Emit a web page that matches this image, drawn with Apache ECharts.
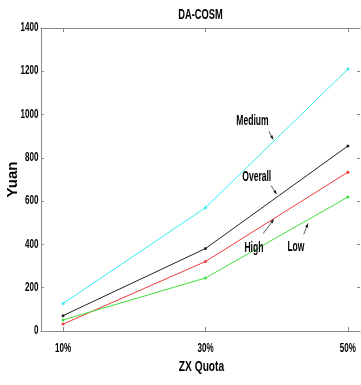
<!DOCTYPE html>
<html>
<head>
<meta charset="utf-8">
<script src="https://cdn.jsdelivr.net/npm/echarts@6/dist/echarts.min.js"></script>
<style>
html,body{margin:0;padding:0;background:#fff;}
#chart{width:361px;height:385px;}
</style>
</head>
<body>
<div id="chart"></div>
<script>
// ZX quota levels (percent) and cost per group (yuan)
const quotas = [10, 30, 50];
const quotaTicks = ['10%', '30%', '50%'];
const medium = [127, 570, 1210];
const overall = [71, 381, 855];
const high = [32, 321, 734];
const low = [51, 245, 619];
const yTicks = [0, 200, 400, 600, 800, 1000, 1200, 1400];

// Callout labels: text position and arrow [from, to], in data units (quota %, yuan)
const callouts = [
  { text: 'Medium',  at: [36.6, 968], from: [38.9, 923], to: [39.5, 885] },
  { text: 'Overall', at: [37.2, 710], from: [39.2, 672], to: [40.0, 632] },
  { text: 'High',    at: [36.8, 382], from: [38.1, 450], to: [39.6, 516] },
  { text: 'Low',     at: [42.7, 389], from: [43.8, 447], to: [44.4, 497] }
];

const SANS = '"Liberation Sans", Arial, Helvetica, sans-serif';
const axisGray = '#8a8a8a';
const X_MIN = 6.9, X_MAX = 51.7;

const chart = echarts.init(document.getElementById('chart'));

function line(name, values, color) {
  return {
    name, type: 'line',
    data: quotas.map((q, i) => [q, values[i]]),
    symbol: 'circle', symbolSize: 3,
    lineStyle: { color, width: 1 },
    itemStyle: { color },
    animation: false, z: 3
  };
}

chart.setOption({
  animation: false,
  grid: { left: 41, right: 1, top: 28, bottom: 54, containLabel: false, outerBoundsMode: 'none' },
  xAxis: [{
    type: 'value', min: X_MIN, max: X_MAX,
    axisLine: { show: true, lineStyle: { color: axisGray, width: 1 } },
    axisTick: { show: true, inside: true, length: 4, customValues: quotas, lineStyle: { color: axisGray } },
    axisLabel: { show: false },
    splitLine: { show: false }
  }, {
    type: 'value', position: 'top', min: X_MIN, max: X_MAX,
    axisLine: { show: true, onZero: false, lineStyle: { color: axisGray, width: 1 } },
    axisTick: { show: true, inside: true, length: 4, customValues: quotas, lineStyle: { color: axisGray } },
    axisLabel: { show: false },
    splitLine: { show: false }
  }],
  yAxis: [{
    type: 'value', min: 0, max: 1400, interval: 200,
    name: 'Yuan', nameLocation: 'middle', nameGap: 21, nameRotate: 90,
    nameTextStyle: { fontFamily: SANS, fontSize: 15, fontWeight: 'bold', color: '#000' },
    axisLine: { show: true, lineStyle: { color: axisGray, width: 1 } },
    axisTick: { show: true, inside: true, length: 3, lineStyle: { color: axisGray } },
    axisLabel: { show: false },
    splitLine: { show: false }
  }, {
    type: 'value', position: 'right', min: 0, max: 1400, interval: 200,
    axisLine: { show: false },
    axisTick: { show: true, inside: true, length: 3, lineStyle: { color: axisGray } },
    axisLabel: { show: false },
    splitLine: { show: false }
  }],
  series: [
    line('Medium', medium, '#33eaf0'),
    line('Overall', overall, '#222222'),
    line('High', high, '#f03a3a'),
    line('Low', low, '#3ee03e')
  ]
});

// Condensed bold text, squeezed horizontally around its anchor
function narrowText(text, x, y, size, squeeze, align) {
  return {
    type: 'text', x, y, z: 10, scaleX: squeeze,
    style: { text, fontFamily: SANS, fontSize: size, fontWeight: 'bold', fill: '#000', align: align || 'center', verticalAlign: 'middle' }
  };
}

// Texts and arrows placed through the chart's own coordinate conversion
const toPx = p => chart.convertToPixel({ xAxisIndex: 0, yAxisIndex: 0 }, p);
const graphics = [];
const origin = toPx([X_MIN, 0]), far = toPx([X_MAX, 1400]);
const midX = (origin[0] + far[0]) / 2;

graphics.push(narrowText('DA-COSM', midX, 15, 15, 0.62));
graphics.push(narrowText('ZX Quota', midX + 1, origin[1] + 36, 15, 0.68));

// tick labels
yTicks.forEach(v => {
  const p = toPx([X_MIN, v]);
  graphics.push(narrowText(String(v), p[0] - 2.5, p[1] - 0.5, 13, 0.62, 'right'));
});
quotas.forEach((q, i) => {
  const p = toPx([q, 0]);
  graphics.push(narrowText(quotaTicks[i], p[0], p[1] + 17, 13, 0.62));
});

callouts.forEach(c => {
  const t = toPx(c.at), a = toPx(c.from), b = toPx(c.to);
  graphics.push(narrowText(c.text, t[0], t[1], 14, 0.61));
  graphics.push({
    type: 'line', z: 10,
    shape: { x1: a[0], y1: a[1], x2: b[0], y2: b[1] },
    style: { stroke: '#333', lineWidth: 0.8 }
  });
  const ang = Math.atan2(b[1] - a[1], b[0] - a[0]);
  const L = 4, W = 1.6;
  const bx = b[0] - L * Math.cos(ang), by = b[1] - L * Math.sin(ang);
  graphics.push({
    type: 'polygon', z: 10,
    shape: { points: [[b[0], b[1]], [bx - W * Math.sin(ang), by + W * Math.cos(ang)], [bx + W * Math.sin(ang), by - W * Math.cos(ang)]] },
    style: { fill: '#222' }
  });
});
chart.setOption({ graphic: graphics });
</script>
</body>
</html>
